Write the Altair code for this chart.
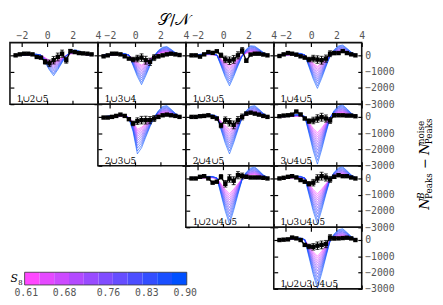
import altair as alt
import pandas as pd

# ---------------- data ----------------
sn_bins = [-2.5, -2.17, -1.83, -1.5, -1.17, -0.83, -0.5, -0.17, 0.17, 0.5,
           0.83, 1.17, 1.5, 1.83, 2.17, 2.5, 2.83, 3.17, 3.5]

s8_values = [0.61, 0.636, 0.663, 0.689, 0.715, 0.742, 0.768, 0.795, 0.821, 0.847, 0.874, 0.90]
# amplitude of each S8 model relative to the S8 = 0.90 model
s8_amplitude = [0.337, 0.378, 0.425, 0.473, 0.525, 0.582, 0.641, 0.706, 0.773, 0.844, 0.921, 1.0]

panel_labels = ["1∪2∪5", "1∪3∪4", "1∪3∪5", "1∪4∪5", "2∪3∪5", "2∪4∪5",
                "3∪4∪5", "1∪2∪4∪5", "1∪3∪4∪5", "1∪2∪3∪4∪5"]
panel_row = [0, 0, 0, 0, 1, 1, 1, 2, 2, 3]
panel_col = [0, 1, 2, 3, 1, 2, 3, 2, 3, 3]

# model prediction for S8 = 0.90 in each panel
m_125 = [10, 20, 40, 60, 80, 70, 10, -440, -900, -1250, -880, -440, -30, 250, 340, 280, 160, 70, 20]
m_134 = [20, 30, 60, 90, 120, 110, 20, -630, -1300, -1800, -1260, -630, -40, 300, 500, 540, 370, 170, 40]
m_135 = [20, 30, 60, 90, 120, 110, 20, -650, -1350, -1870, -1310, -650, -40, 380, 590, 560, 380, 180, 40]
m_145 = [20, 40, 70, 100, 130, 120, 30, -710, -1460, -2030, -1420, -710, -40, 350, 580, 630, 430, 200, 50]
m_235 = [20, 40, 70, 100, 130, 110, -100, -900, -2270, -1900, -1250, -600, -30, 380, 640, 690, 470, 220, 50]
m_245 = [20, 40, 70, 100, 130, 120, 30, -790, -1630, -2270, -1590, -790, -50, 380, 640, 690, 470, 220, 50]
m_345 = [20, 40, 70, 100, 140, 130, 30, -1010, -2090, -2900, -2030, -1010, -60, 400, 670, 730, 500, 230, 60]
m_1245 = [20, 40, 70, 100, 130, 120, 30, -980, -2020, -2800, -1960, -980, -60, 390, 640, 700, 480, 220, 60]
m_1345 = [20, 40, 70, 100, 140, 130, 30, -980, -2020, -2800, -1960, -980, -60, 390, 650, 710, 480, 220, 60]
m_12345 = [20, 40, 70, 100, 130, 120, 30, -1040, -2130, -2960, -2070, -1040, -60, 380, 630, 690, 470, 220, 55]

# measured data
d_125 = [0, 60, 100, 100, 60, -100, -140, -400, -490, -300, -100, 100, -300, 260, 200, 140, 120, 100, 60]
d_134 = [-60, 0, 100, 100, 60, -60, -200, -260, -200, -140, -300, -400, -140, -60, 0, 60, 100, 60, 20]
d_135 = [0, 0, -80, 60, 200, 150, 250, 0, -250, -330, -250, 0, 300, -330, 50, 100, 100, 50, 0]
d_145 = [-40, 60, 140, 100, 40, -60, -140, -260, -200, -260, -300, -200, 100, 140, 140, 260, 140, 60, 0]
d_235 = [-40, -40, 0, 60, 140, 60, -140, -400, -260, -200, -200, -200, -100, 0, 100, 140, 100, 60, 0]
d_245 = [0, 0, 40, 60, 100, 0, -100, -530, -200, -330, -490, -200, 0, 200, 260, 200, 140, 60, 0]
d_345 = [40, 80, 100, 140, 330, 150, -100, -260, -220, -100, -20, -100, -220, 100, 100, 100, 80, 80, 40]
d_1245 = [0, 0, 100, 140, 0, -260, -200, 100, -330, 0, -140, 200, 150, 100, 60, 60, 60, 40, 0]
d_1345 = [0, 40, 100, 140, 60, -100, -200, -330, -260, 0, 140, 60, -60, 100, 200, 140, 140, 60, 0]
d_12345 = [0, 20, 40, 150, 100, 0, -300, -400, -420, -350, -300, -250, 150, 100, 100, 120, 140, 100, 0]
data_err = [15, 15, 20, 25, 30, 40, 70, 140, 200, 230, 240, 220, 180, 100, 60, 40, 30, 25, 20]

model_profiles = [m_125, m_134, m_135, m_145, m_235, m_245, m_345, m_1245, m_1345, m_12345]
data_sets = [d_125, d_134, d_135, d_145, d_235, d_245, d_345, d_1245, d_1345, d_12345]

cbar_edges = [0.607, 0.634, 0.661, 0.688, 0.715, 0.742, 0.768, 0.795, 0.822, 0.849, 0.876, 0.903]
cbar_block_s8 = [0.61, 0.639, 0.668, 0.697, 0.726, 0.755, 0.784, 0.813, 0.842, 0.871, 0.90]
cbar_ticks = [0.61, 0.68, 0.76, 0.83, 0.90]
cbar_tick_labels = ["0.61", "0.68", "0.76", "0.83", "0.90"]

# ---------------- style ----------------
W, H = 90, 63
X_DOMAIN = [-2.95, 4.0]
Y_DOMAIN = [-3000, 780]
X_TICKS = [-2, 0, 2, 4]
Y_TICKS = [0, -1000, -2000, -3000]
MONO = "DejaVu Sans Mono"
SERIF = "DejaVu Serif"
LABEL_GRAY = "#555555"

color_scale = alt.Scale(domain=[0.61, 0.90], range=["#ff48ff", "#0050ff"], interpolate="rgb")


def axis(orient, values, labels):
    return alt.Axis(orient=orient, values=values, labels=labels, domain=False, grid=False,
                    ticks=True, tickSize=4, tickWidth=1.2, tickColor="black", offset=-4,
                    title="", labelFlush=False, labelOverlap=False, format="d",
                    labelFont=MONO, labelFontSize=10, labelColor=LABEL_GRAY,
                    labelPadding=2 if orient == "top" else 3)


def text_layer(txt, x, y, size, align="left", baseline="alphabetic", angle=0, style="normal", font=SERIF):
    return alt.Chart(pd.DataFrame({"t": [txt]})).mark_text(
        align=align, baseline=baseline, angle=angle, fontSize=size, font=font,
        fontStyle=style, color="black").encode(x=alt.value(x), y=alt.value(y), text="t:N")


def build_panel(i):
    r, c = panel_row[i], panel_col[i]
    prof = model_profiles[i]
    recs = []
    for s, a in zip(s8_values, s8_amplitude):
        for x, p in zip(sn_bins, prof):
            recs.append({"sn": x, "val": p * a, "s8": s})
    mdf = pd.DataFrame(recs)
    d = data_sets[i]
    ddf = pd.DataFrame({"sn": sn_bins, "val": d,
                        "lo": [v - e for v, e in zip(d, data_err)],
                        "hi": [v + e for v, e in zip(d, data_err)]})
    xs = alt.Scale(domain=X_DOMAIN, nice=False, zero=False)
    ys = alt.Scale(domain=Y_DOMAIN, nice=False, zero=False)

    models = alt.Chart(mdf).mark_line(strokeWidth=0.65, opacity=0.9, clip=True).encode(
        x=alt.X("sn:Q", scale=xs, axis=axis("bottom", X_TICKS, False)),
        y=alt.Y("val:Q", scale=ys, axis=axis("left", Y_TICKS, False)),
        color=alt.Color("s8:Q", scale=color_scale, legend=None),
        detail="s8:Q",
    )
    base = alt.Chart(ddf)
    dline = base.mark_line(color="black", strokeWidth=1.4).encode(
        x=alt.X("sn:Q", scale=xs, axis=axis("top", X_TICKS, r == 0)),
        y=alt.Y("val:Q", scale=ys, axis=axis("right", Y_TICKS, c == 3)),
    )
    bars = base.mark_rule(color="black", strokeWidth=1.1).encode(
        x=alt.X("sn:Q", axis=None), y=alt.Y("lo:Q", axis=None), y2="hi:Q")
    cap_lo = base.mark_tick(color="black", orient="horizontal", size=4, thickness=1.1).encode(
        x=alt.X("sn:Q", axis=None), y=alt.Y("lo:Q", axis=None))
    cap_hi = base.mark_tick(color="black", orient="horizontal", size=4, thickness=1.1).encode(
        x=alt.X("sn:Q", axis=None), y=alt.Y("hi:Q", axis=None))
    squares = base.mark_square(color="black", size=20, opacity=1).encode(
        x=alt.X("sn:Q", axis=None), y=alt.Y("val:Q", axis=None))
    layers = [models, dline, bars, cap_lo, cap_hi, squares,
              text_layer(panel_labels[i], 7, H - 2, 9)]
    if i == 1:
        layers.append(text_layer("𝒮/𝒩", W - 12, -23, 16, align="center", baseline="middle"))
    if i == 6:
        bx = 159
        layers += [
            text_layer("N", bx, 108, 14, angle=270, style="italic"),
            text_layer("B", bx - 5, 97, 9, angle=270, style="italic"),
            text_layer("Peaks", bx + 3, 97, 9, angle=270),
            text_layer("−", bx, 66, 13, angle=270),
            text_layer("N", bx, 52, 14, angle=270, style="italic"),
            text_layer("noise", bx - 5, 41, 9, angle=270),
            text_layer("Peaks", bx + 3, 41, 9, angle=270),
        ]
    return alt.layer(*layers).resolve_axis(x="independent", y="independent").properties(
        width=W, height=H)


def empty_cell():
    return alt.Chart(pd.DataFrame({"a": [0]})).mark_point(opacity=0).properties(
        width=W, height=H, view=alt.ViewBackground(stroke="transparent"))


def colorbar_cell():
    cb_df = pd.DataFrame({"x0": cbar_edges[:-1], "x1": cbar_edges[1:], "s8": cbar_block_s8})
    cb_scale = alt.Scale(domain=[cbar_edges[0], cbar_edges[-1]], range=[15, 181], nice=False, zero=False)
    blocks = alt.Chart(cb_df).mark_rect().encode(
        x=alt.X("x0:Q", scale=cb_scale, axis=None),
        x2="x1:Q",
        y=alt.value(46), y2=alt.value(59),
        color=alt.Color("s8:Q", scale=color_scale, legend=None),
    )
    frame = alt.Chart(pd.DataFrame({"a": [cbar_edges[0]], "b": [cbar_edges[-1]]})).mark_rect(
        fillOpacity=0, stroke="#333333", strokeWidth=0.8).encode(
        x=alt.X("a:Q", axis=None), x2="b:Q", y=alt.value(46), y2=alt.value(59))
    tick_df = pd.DataFrame({"v": cbar_ticks, "lab": cbar_tick_labels})
    tick_text = alt.Chart(tick_df).mark_text(
        align="center", baseline="alphabetic", font=MONO, fontSize=10, color=LABEL_GRAY).encode(
        x=alt.X("v:Q", axis=None), y=alt.value(70), text="lab:N")
    s_lab = text_layer("S", 8, 56, 11, align="right", style="italic")
    s_sub = text_layer("8", 8.5, 59, 7)
    return alt.layer(blocks, frame, tick_text, s_lab, s_sub).properties(
        width=W, height=H, view=alt.ViewBackground(stroke="transparent"))


P = [build_panel(i) for i in range(10)]
E = empty_cell
cells = [P[0], P[1], P[2], P[3],
         E(), P[4], P[5], P[6],
         E(), E(), P[7], P[8],
         colorbar_cell(), E(), E(), P[9]]

chart = alt.concat(*cells, columns=4, spacing=0, bounds="flush").properties(
    padding=0
).configure_view(stroke="#111111", strokeWidth=1.6)

chart.save("out.html", embed_options={"renderer": "svg", "actions": False})
